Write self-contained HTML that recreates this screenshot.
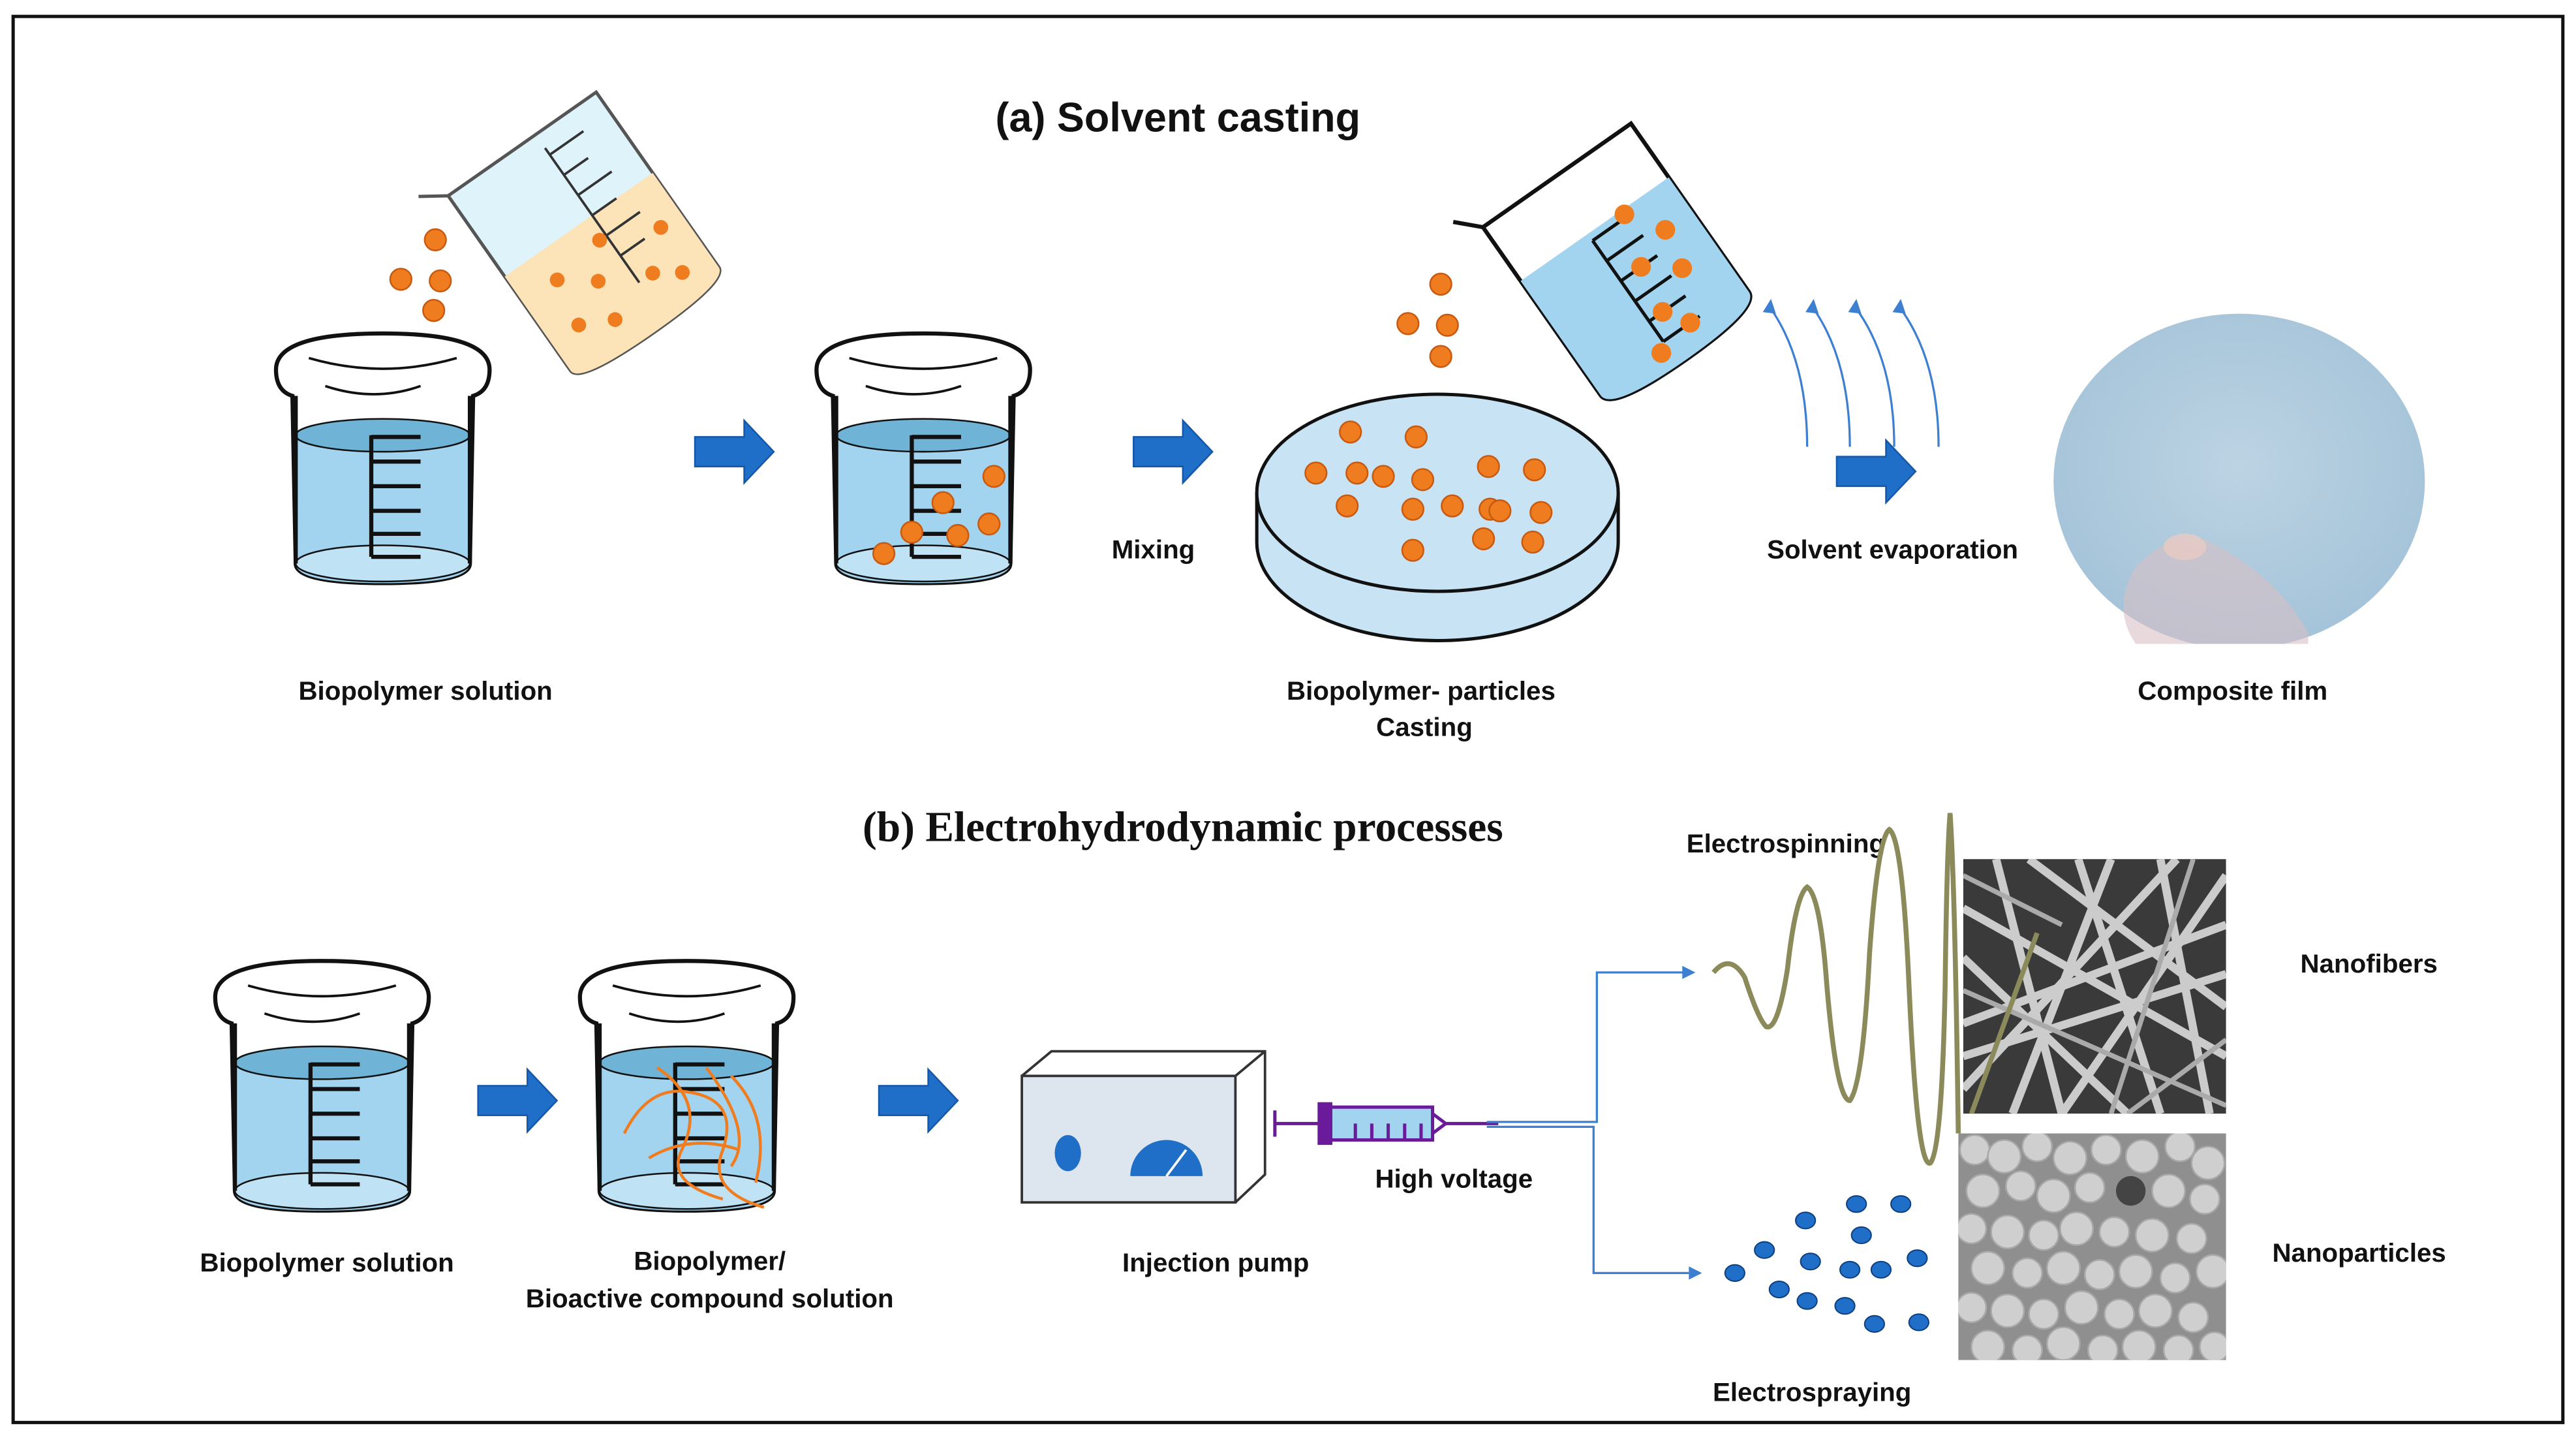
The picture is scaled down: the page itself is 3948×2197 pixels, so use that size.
<!DOCTYPE html>
<html><head><meta charset="utf-8"><style>html,body{margin:0;padding:0;background:#fff}svg{display:block}text{font-family:"Liberation Sans",sans-serif;font-weight:bold;fill:#111}</style></head><body>
<svg width="3948" height="2197" viewBox="0 0 1568 873" preserveAspectRatio="none" xmlns="http://www.w3.org/2000/svg">
<defs>
<g id="bk">
<path d="M0,22 Q0,0 65,0 Q130,0 130,22 Q130,35 120,38 L118,140 Q118,152 65,152 Q12,152 12,140 L10,38 Q0,35 0,22 Z" fill="#fff" stroke="#111" stroke-width="2.5"/>
<path d="M12,62 L118,62 L118,140 Q118,152 65,152 Q12,152 12,140 Z" fill="#a3d4ef"/>
<ellipse cx="65" cy="62" rx="53" ry="10" fill="#6fb3d6" stroke="#111" stroke-width="1"/>
<ellipse cx="65" cy="140" rx="53" ry="11" fill="#bfe2f5" stroke="#111" stroke-width="1"/>
<path d="M12,38 L12,140 M118,38 L118,140" stroke="#111" stroke-width="2.5"/>
<path d="M20,15 Q65,28 110,15 M30,32 Q60,42 88,32" fill="none" stroke="#111" stroke-width="1.5"/>
<path d="M58,62 L58,136 M58,63 L88,63 M58,78 L88,78 M58,93 L88,93 M58,108 L88,108 M58,122 L88,122 M58,136 L88,136" stroke="#111" stroke-width="2.5" fill="none"/>
</g>
<path id="ar" d="M0,-9 L30,-9 L30,-19 L48,0 L30,19 L30,9 L0,9 Z" fill="#1f6fc9" stroke="#1557a8" stroke-width="1"/>
<radialGradient id="film" cx="0.5" cy="0.45" r="0.6"><stop offset="0" stop-color="#bcd3e3"/><stop offset="1" stop-color="#a3c2d8"/></radialGradient>
<clipPath id="fc"><rect x="1240" y="180" width="250" height="212"/></clipPath>
</defs>
<rect x="8" y="10" width="1552" height="856" fill="none" stroke="#111" stroke-width="2"/>
<text x="717" y="80" font-size="25" text-anchor="middle">(a) Solvent casting</text>

<use href="#bk" x="168" y="203"/>
<use href="#bk" x="497" y="203"/>
<g fill="#f07c20" stroke="#c85a10" stroke-width="1">
<circle cx="265" cy="146" r="6.5"/><circle cx="244" cy="170" r="6.5"/><circle cx="268" cy="171" r="6.5"/><circle cx="264" cy="189" r="6.5"/>
<circle cx="605" cy="290" r="6.5"/><circle cx="574" cy="306" r="6.5"/><circle cx="555" cy="324" r="6.5"/><circle cx="583" cy="326" r="6.5"/><circle cx="602" cy="319" r="6.5"/><circle cx="538" cy="337" r="6.5"/>
</g>
<g transform="translate(358,145) rotate(-35)">
<path d="M-55,-70 L55,-70 L55,60 Q55,70 0,70 Q-55,70 -55,60 Z" fill="#dff3fb" stroke="#555" stroke-width="2"/>
<path d="M-55,-10 L55,-10 L55,60 Q55,70 0,70 Q-55,70 -55,60 Z" fill="#fde3b8"/>
<path d="M-55,-70 L-70,-80" stroke="#555" stroke-width="2"/>
<path d="M10,-60 L10,40 M10,-55 L35,-55 M10,-40 L28,-40 M10,-25 L35,-25 M10,-10 L28,-10 M10,5 L35,5 M10,20 L28,20" stroke="#333" stroke-width="1.5"/>
<g fill="#f07c20"><circle cx="-30" cy="10" r="4.5"/><circle cx="-10" cy="25" r="4.5"/><circle cx="-35" cy="40" r="4.5"/><circle cx="20" cy="40" r="4.5"/><circle cx="40" cy="20" r="4.5"/><circle cx="-15" cy="50" r="4.5"/><circle cx="5" cy="5" r="4.5"/><circle cx="35" cy="50" r="4.5"/></g>
</g>
<use href="#ar" x="423" y="275"/>
<use href="#ar" x="690" y="275"/>
<text x="702" y="340" font-size="16" text-anchor="middle">Mixing</text>
<text x="259" y="426" font-size="16" text-anchor="middle">Biopolymer solution</text>

<path d="M765,300 L765,330 A110,60 0 0 0 985,330 L985,300" fill="#c8e3f3" stroke="#111" stroke-width="2"/>
<ellipse cx="875" cy="300" rx="110" ry="60" fill="#c8e3f3" stroke="#111" stroke-width="2"/>
<g fill="#f07c20" stroke="#c85a10" stroke-width="1">
<circle cx="822" cy="263" r="6.5"/><circle cx="862" cy="266" r="6.5"/><circle cx="801" cy="288" r="6.5"/><circle cx="826" cy="288" r="6.5"/><circle cx="842" cy="290" r="6.5"/><circle cx="866" cy="292" r="6.5"/><circle cx="906" cy="284" r="6.5"/><circle cx="934" cy="286" r="6.5"/>
<circle cx="820" cy="308" r="6.5"/><circle cx="860" cy="310" r="6.5"/><circle cx="884" cy="308" r="6.5"/><circle cx="907" cy="310" r="6.5"/><circle cx="913" cy="311" r="6.5"/><circle cx="938" cy="312" r="6.5"/><circle cx="903" cy="328" r="6.5"/><circle cx="933" cy="330" r="6.5"/><circle cx="860" cy="335" r="6.5"/>
<circle cx="877" cy="173" r="6.5"/><circle cx="857" cy="197" r="6.5"/><circle cx="881" cy="198" r="6.5"/><circle cx="877" cy="217" r="6.5"/>
</g>
<g transform="translate(985,160) rotate(-35)">
<path d="M-55,-65 L55,-65 L55,60 Q55,72 0,72 Q-55,72 -55,60 Z" fill="#fff" stroke="#111" stroke-width="2.5"/>
<path d="M-55,-25 L55,-25 L55,60 Q55,72 0,72 Q-55,72 -55,60 Z" fill="#a3d4ef"/>
<path d="M-55,-65 L-68,-78" stroke="#111" stroke-width="2.5"/>
<path d="M-5,-20 L-5,55 M-5,-20 L22,-20 M-5,-5 L22,-5 M-5,10 L22,10 M-5,25 L22,25 M-5,40 L22,40 M-5,55 L22,55" stroke="#111" stroke-width="2"/>
<g fill="#f07c20"><circle cx="20" cy="-22" r="6"/><circle cx="35" cy="0" r="6"/><circle cx="10" cy="10" r="6"/><circle cx="30" cy="25" r="6"/><circle cx="5" cy="40" r="6"/><circle cx="15" cy="55" r="6"/><circle cx="-10" cy="60" r="6"/></g>
</g>
<g fill="none" stroke="#3d7fd0" stroke-width="1.3">
<path d="M1100,272 Q1100,220 1078,188"/><path d="M1126,272 Q1126,220 1104,188"/><path d="M1153,272 Q1153,220 1130,188"/><path d="M1180,272 Q1180,220 1157,188"/>
</g>
<g fill="#3d7fd0"><path d="M1073,190 L1078,182 L1081,191Z"/><path d="M1099,190 L1104,182 L1107,191Z"/><path d="M1125,190 L1130,182 L1133,191Z"/><path d="M1152,190 L1157,182 L1160,191Z"/></g>
<use href="#ar" x="1118" y="287"/>
<text x="1152" y="340" font-size="16" text-anchor="middle">Solvent evaporation</text>
<text x="865" y="426" font-size="16" text-anchor="middle">Biopolymer- particles</text>
<text x="867" y="448" font-size="16" text-anchor="middle">Casting</text>
<g clip-path="url(#fc)">
<ellipse cx="1363" cy="293" rx="113" ry="102" fill="url(#film)"/>
<path d="M1300,345 Q1325,320 1345,330 Q1385,350 1405,385 L1405,392 L1300,392 Q1285,370 1300,345 Z" fill="#d7c0c4" opacity="0.6"/>
</g>
<ellipse cx="1330" cy="333" rx="13" ry="8" fill="#e9cbc4" opacity="0.8"/>
<text x="1359" y="426" font-size="16" text-anchor="middle">Composite film</text>

<text x="720" y="512" font-size="26" text-anchor="middle" style="font-family:'Liberation Serif',serif">(b) Electrohydrodynamic processes</text>
<use href="#bk" x="131" y="585"/>
<use href="#bk" x="353" y="585"/>
<g fill="none" stroke="#f07c20" stroke-width="1.8">
<path d="M380,690 Q395,660 420,665 Q450,670 440,700 Q430,725 465,735"/>
<path d="M400,650 Q430,670 415,700 Q405,720 440,730"/>
<path d="M430,650 Q460,690 445,710"/>
<path d="M395,705 Q420,690 450,700"/>
<path d="M445,655 Q470,680 460,720"/>
</g>
<use href="#ar" x="291" y="670"/>
<use href="#ar" x="535" y="670"/>
<text x="199" y="774" font-size="16" text-anchor="middle">Biopolymer solution</text>
<text x="432" y="773" font-size="16" text-anchor="middle">Biopolymer/</text>
<text x="432" y="796" font-size="16" text-anchor="middle">Bioactive compound solution</text>
<path d="M622,655 L640,640 L770,640 L770,715 L752,732" fill="#fff" stroke="#333" stroke-width="1.5"/>
<path d="M752,655 L770,640" stroke="#333" stroke-width="1.5"/>
<rect x="622" y="655" width="130" height="77" fill="#dde6ef" stroke="#333" stroke-width="1.5"/>
<ellipse cx="650" cy="702" rx="8" ry="11" fill="#1f6fc9"/>
<path d="M688,716 A22,22 0 0 1 732,716 Z" fill="#1f6fc9"/>
<path d="M710,716 L722,700" stroke="#fff" stroke-width="1.5"/>
<g stroke="#6a1b9a" stroke-width="2" fill="none">
<path d="M776,676 L776,692 M776,684 L803,684"/>
<rect x="803" y="672" width="7" height="24" fill="#6a1b9a"/>
<rect x="810" y="674" width="62" height="20" fill="#a3d4ef"/>
<path d="M872,678 L880,684 L872,690 M880,684 L912,684"/>
<path d="M825,684 L825,694 M835,684 L835,694 M845,684 L845,694 M855,684 L855,694 M865,684 L865,694"/>
</g>
<text x="885" y="723" font-size="16" text-anchor="middle">High voltage</text>
<text x="740" y="774" font-size="16" text-anchor="middle">Injection pump</text>
<g fill="none" stroke="#3d7fd0" stroke-width="1.3">
<path d="M905,683 L972,683 L972,592 L1025,592"/>
<path d="M905,686 L970,686 L970,775 L1028,775"/>
</g>
<path d="M1024,588 L1032,592 L1024,596Z M1028,771 L1036,775 L1028,779Z" fill="#3d7fd0"/>
<text x="1087" y="519" font-size="16" text-anchor="middle">Electrospinning</text>
<path d="M1043,592 Q1053,580 1062,595 Q1070,620 1075,625 Q1082,628 1088,590 Q1093,545 1100,540 Q1108,545 1112,600 Q1118,670 1126,670 Q1134,660 1138,580 Q1143,510 1150,505 Q1158,510 1162,600 Q1167,712 1175,708 Q1182,700 1184,600 Q1185,520 1187,495 Q1190,540 1192,690" fill="none" stroke="#8a8a5a" stroke-width="3"/>
<svg x="1195" y="523" width="160" height="155" viewBox="0 0 160 155">
<rect width="160" height="155" fill="#3a3a3a"/>
<g stroke="#dcdcdc" stroke-width="5" opacity="0.9">
<path d="M0,30 L160,120"/><path d="M20,0 L60,155"/><path d="M90,0 L30,155"/><path d="M0,100 L160,40"/><path d="M120,0 L150,155"/><path d="M0,140 L130,0"/><path d="M40,0 L160,90"/><path d="M0,60 L100,155"/><path d="M70,0 L120,155"/><path d="M160,10 L60,155"/><path d="M0,120 L160,70"/>
</g>
<g stroke="#aaa" stroke-width="3"><path d="M0,80 L160,150"/><path d="M140,0 L90,155"/><path d="M0,10 L60,40"/><path d="M100,155 L160,110"/></g>
<path d="M45,45 L5,155" stroke="#8a8a5a" stroke-width="3"/>
</svg>
<svg x="1192" y="690" width="163" height="138" viewBox="0 0 163 138">
<rect width="163" height="138" fill="#8f8f8f"/>
<g fill="#cfcfcf" stroke="#a8a8a8" stroke-width="1">
<circle cx="10" cy="10" r="9"/><circle cx="28" cy="14" r="10"/><circle cx="48" cy="8" r="9"/><circle cx="68" cy="15" r="10"/><circle cx="90" cy="10" r="9"/><circle cx="112" cy="14" r="10"/><circle cx="135" cy="8" r="9"/><circle cx="152" cy="18" r="10"/>
<circle cx="15" cy="35" r="10"/><circle cx="38" cy="32" r="9"/><circle cx="58" cy="38" r="10"/><circle cx="80" cy="33" r="9"/><circle cx="128" cy="35" r="10"/><circle cx="150" cy="40" r="9"/>
<circle cx="8" cy="58" r="9"/><circle cx="30" cy="60" r="10"/><circle cx="52" cy="62" r="9"/><circle cx="72" cy="58" r="10"/><circle cx="95" cy="60" r="9"/><circle cx="118" cy="62" r="10"/><circle cx="142" cy="64" r="9"/>
<circle cx="18" cy="82" r="10"/><circle cx="42" cy="85" r="9"/><circle cx="64" cy="82" r="10"/><circle cx="86" cy="86" r="9"/><circle cx="108" cy="84" r="10"/><circle cx="132" cy="88" r="9"/><circle cx="155" cy="84" r="10"/>
<circle cx="8" cy="106" r="9"/><circle cx="30" cy="108" r="10"/><circle cx="52" cy="110" r="9"/><circle cx="75" cy="106" r="10"/><circle cx="98" cy="110" r="9"/><circle cx="120" cy="108" r="10"/><circle cx="143" cy="112" r="9"/>
<circle cx="18" cy="130" r="10"/><circle cx="42" cy="132" r="9"/><circle cx="64" cy="128" r="10"/><circle cx="88" cy="132" r="9"/><circle cx="110" cy="130" r="10"/><circle cx="134" cy="132" r="9"/><circle cx="156" cy="130" r="9"/>
</g>
<circle cx="105" cy="35" r="9" fill="#444"/>
</svg>
<g fill="#1f6fc9" stroke="#0d3f80" stroke-width="0.8">
<ellipse cx="1130" cy="733" rx="6" ry="5"/><ellipse cx="1157" cy="733" rx="6" ry="5"/><ellipse cx="1099" cy="743" rx="6" ry="5"/><ellipse cx="1133" cy="752" rx="6" ry="5"/>
<ellipse cx="1074" cy="761" rx="6" ry="5"/><ellipse cx="1102" cy="768" rx="6" ry="5"/><ellipse cx="1126" cy="773" rx="6" ry="5"/><ellipse cx="1145" cy="773" rx="6" ry="5"/><ellipse cx="1167" cy="766" rx="6" ry="5"/>
<ellipse cx="1056" cy="775" rx="6" ry="5"/><ellipse cx="1083" cy="785" rx="6" ry="5"/><ellipse cx="1100" cy="792" rx="6" ry="5"/><ellipse cx="1123" cy="795" rx="6" ry="5"/><ellipse cx="1141" cy="806" rx="6" ry="5"/><ellipse cx="1168" cy="805" rx="6" ry="5"/>
</g>
<text x="1442" y="592" font-size="16" text-anchor="middle">Nanofibers</text>
<text x="1436" y="768" font-size="16" text-anchor="middle">Nanoparticles</text>
<text x="1103" y="853" font-size="16" text-anchor="middle">Electrospraying</text>
</svg>
</body></html>
